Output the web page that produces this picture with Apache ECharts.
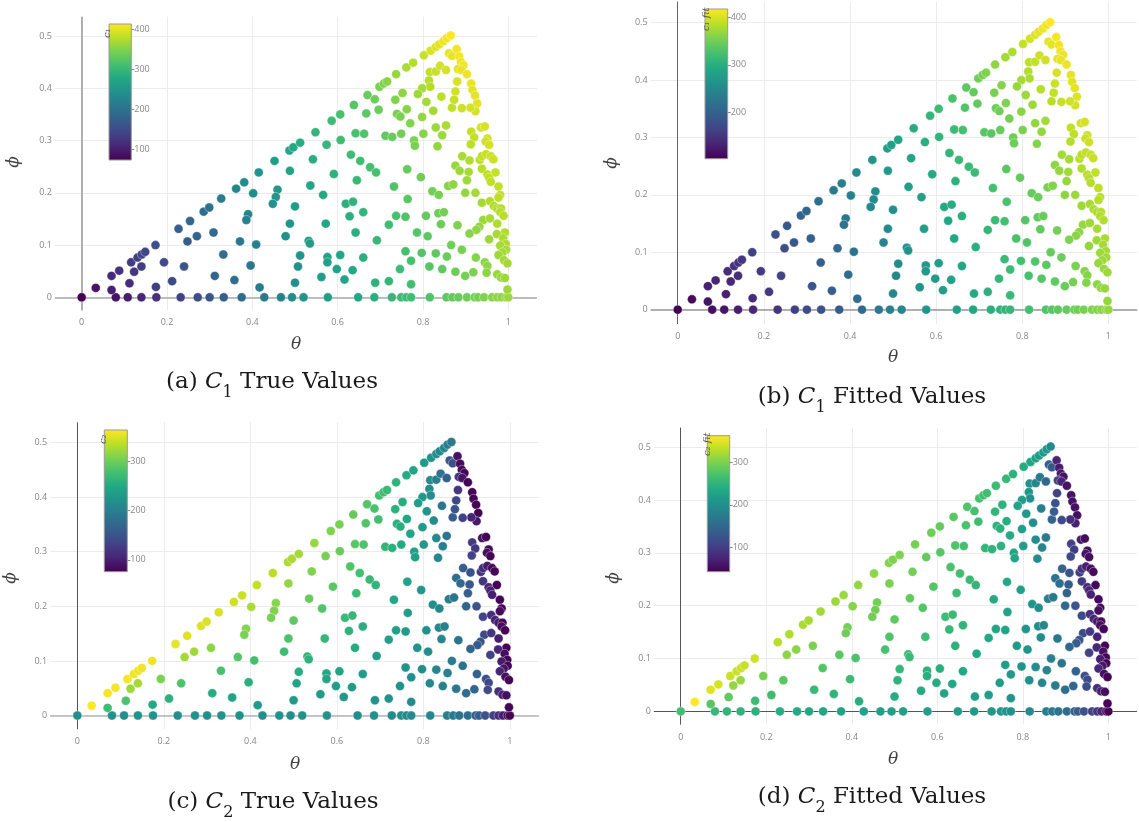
<!DOCTYPE html>
<html>
<head>
<meta charset="utf-8">
<title>C1 / C2 true and fitted values over (theta, phi)</title>
<script src="https://cdn.jsdelivr.net/npm/echarts@6.0.0/dist/echarts.min.js"></script>
<style>
  html, body { margin: 0; padding: 0; background: #ffffff; }
  #chart { width: 1139px; height: 822px; }
</style>
</head>
<body>
<div id="chart"></div>
<script>
// Each sample point: [theta, phi, c1 true, c1 fitted, c2 true, c2 fitted]

// points on phi = 0
const bottomRow = [
  [0.000,0,74,102,218,266],[0.080,0,92,113,221,255],[0.108,0,101,119,219,252],[0.140,0,110,126,222,249],
  [0.175,0,122,135,220,246],[0.232,0,140,150,218,240],[0.272,0,154,161,221,236],[0.300,0,164,170,219,234],
  [0.333,0,176,180,222,231],[0.375,0,192,193,220,228],[0.428,0,211,212,218,226],[0.467,0,225,227,221,224],
  [0.493,0,236,237,219,223],[0.520,0,246,246,220,222],[0.577,0,261,264,222,220],[0.648,0,278,281,218,218],
  [0.686,0,287,290,219,216],[0.727,0,297,301,216,212],[0.749,0,302,306,215,207],[0.761,0,305,309,214,205],
  [0.772,0,307,311,212,203],[0.816,0,318,322,207,194],[0.855,0,327,331,198,176],[0.869,0,330,334,193,170],
  [0.883,0,334,338,187,164],[0.903,0,338,343,178,153],[0.921,0,343,348,166,143],[0.929,0,344,349,160,136],
  [0.943,0,348,353,149,125],[0.962,0,352,357,130,106],[0.974,0,355,360,115,90],[0.984,0,357,362,101,76],
  [0.995,0,360,365,84,55],[1.000,0,361,366,76,42]
];

// points on the upper straight edge
const upperEdge = [
  [0.033,0.018,92,110,364,363],[0.070,0.041,115,130,361,348],[0.088,0.051,122,134,360,344],
  [0.116,0.067,132,142,359,338],[0.131,0.076,138,146,358,337],[0.141,0.082,142,149,357,337],
  [0.149,0.087,145,152,357,336],[0.173,0.100,154,160,356,339],[0.227,0.131,175,179,353,328],
  [0.254,0.146,185,188,351,324],[0.286,0.164,197,200,349,321],[0.299,0.172,202,205,348,320],
  [0.327,0.189,214,217,346,318],[0.362,0.208,227,230,343,315],[0.381,0.220,235,237,341,314],
  [0.415,0.239,248,251,338,311],[0.452,0.261,263,266,333,307],[0.487,0.281,276,279,328,302],
  [0.496,0.287,278,281,327,301],[0.512,0.296,283,286,324,300],[0.548,0.316,295,298,318,296],
  [0.586,0.338,306,309,310,291],[0.606,0.350,313,317,305,286],[0.638,0.368,323,327,296,280],
  [0.670,0.387,334,338,286,273],[0.698,0.403,345,349,277,268],[0.708,0.409,349,353,273,266],
  [0.716,0.413,352,356,270,265],[0.737,0.427,360,364,261,260],[0.761,0.440,369,373,251,254],
  [0.777,0.449,375,379,244,247],[0.802,0.463,385,390,231,238],[0.818,0.472,392,397,223,233],
  [0.830,0.479,397,402,216,222],[0.838,0.484,400,405,211,218],[0.848,0.490,404,409,205,214],
  [0.856,0.496,407,412,200,208],[0.865,0.501,413,418,192,193]
];

// points inside the sector and along the outer arc
const interior = [
  [0.070,0.014,103,119,273,278],[0.112,0.027,118,130,283,283],[0.123,0.049,128,138,320,311],
  [0.140,0.059,135,143,325,313],[0.174,0.020,135,142,250,260],[0.193,0.067,150,156,307,297],
  [0.212,0.031,149,154,258,263],[0.240,0.059,162,166,282,279],[0.248,0.107,174,178,323,307],
  [0.270,0.117,182,185,322,306],[0.309,0.124,194,197,314,299],[0.312,0.041,182,185,252,257],
  [0.332,0.082,194,197,279,275],[0.358,0.033,195,198,242,250],[0.371,0.107,209,212,287,280],
  [0.402,0.199,236,238,326,305],[0.390,0.159,224,226,311,296],[0.386,0.148,221,223,306,293],
  [0.409,0.101,220,222,277,272],[0.396,0.061,210,213,256,258],[0.417,0.019,213,215,231,241],
  [0.459,0.206,253,256,313,295],[0.455,0.192,249,252,309,293],[0.448,0.179,245,247,306,292],
  [0.488,0.242,269,272,317,299],[0.500,0.174,259,262,292,282],[0.488,0.141,250,253,282,274],
  [0.478,0.117,244,246,273,268],[0.500,0.028,241,244,232,239],[0.507,0.059,246,249,245,248],
  [0.512,0.080,250,253,254,254],[0.532,0.108,260,263,263,260],[0.535,0.103,260,263,260,257],
  [0.542,0.264,284,287,308,294],[0.536,0.214,274,277,297,286],[0.566,0.196,279,282,284,275],
  [0.572,0.141,273,276,267,262],[0.562,0.039,260,263,233,237],[0.576,0.077,267,270,245,245],
  [0.576,0.067,266,269,242,242],[0.574,0.292,296,299,305,286],[0.607,0.301,304,307,297,280],
  [0.591,0.236,290,293,289,276],[0.598,0.054,270,273,236,238],[0.606,0.081,274,277,244,243],
  [0.616,0.034,273,276,229,231],[0.619,0.179,288,291,269,261],[0.636,0.183,293,296,266,258],
  [0.628,0.155,287,290,261,254],[0.642,0.124,287,290,251,246],[0.635,0.052,279,282,233,234],
  [0.631,0.273,305,308,285,271],[0.642,0.314,314,318,288,273],[0.653,0.261,308,312,277,264],
  [0.645,0.224,300,303,272,262],[0.660,0.163,296,299,256,250],[0.660,0.076,286,289,236,234],
  [0.662,0.313,319,323,282,268],[0.667,0.352,327,331,285,270],[0.676,0.249,311,315,268,257],
  [0.688,0.028,290,293,223,222],[0.690,0.239,313,317,263,252],[0.692,0.109,298,301,239,234],
  [0.687,0.379,338,342,280,268],[0.696,0.359,336,340,275,263],[0.712,0.309,330,334,264,252],
  [0.728,0.307,333,337,259,248],[0.720,0.139,307,311,240,233],[0.720,0.031,297,301,221,219],
  [0.732,0.212,319,323,248,238],[0.735,0.378,349,353,260,251],[0.737,0.156,313,317,238,231],
  [0.739,0.351,344,348,257,247],[0.747,0.346,345,349,254,245],[0.746,0.054,305,309,221,217],
  [0.861,0.467,401,406,150,138],[0.868,0.462,402,405,145,131],[0.879,0.475,409,414,89,75],
  [0.885,0.461,407,411,83,66],[0.889,0.450,405,410,83,66],[0.895,0.444,406,409,78,60],
  [0.882,0.437,400,405,120,103],[0.890,0.435,402,406,92,74],[0.903,0.427,404,409,78,58],
  [0.816,0.431,381,386,215,205],[0.830,0.432,385,389,199,188],[0.840,0.443,390,395,184,172],
  [0.854,0.435,392,396,161,148],[0.814,0.415,376,381,216,206],[0.817,0.403,375,379,214,203],
  [0.798,0.400,369,374,229,219],[0.788,0.389,364,367,235,226],[0.752,0.391,356,360,253,247],
  [0.808,0.374,366,371,223,213],[0.843,0.384,378,382,190,177],[0.880,0.413,394,399,122,105],
  [0.876,0.394,389,393,137,120],[0.913,0.409,402,407,80,58],[0.916,0.397,400,404,80,58],
  [0.922,0.386,400,405,78,55],[0.927,0.371,398,402,79,56],[0.923,0.356,393,398,94,71],
  [0.911,0.363,391,395,106,85],[0.891,0.362,386,391,132,114],[0.868,0.363,380,384,160,144],
  [0.873,0.378,384,389,151,135],[0.762,0.360,352,356,248,241],[0.824,0.357,367,370,212,200],
  [0.798,0.345,358,362,230,220],[0.770,0.333,349,352,244,236],[0.749,0.313,340,344,251,245],
  [0.801,0.313,352,355,229,219],[0.830,0.325,362,367,210,198],[0.854,0.329,369,373,188,174],
  [0.845,0.310,363,368,199,186],[0.779,0.300,345,348,238,230],[0.781,0.290,344,348,237,229],
  [0.834,0.289,357,360,209,197],[0.913,0.317,383,388,124,103],[0.920,0.306,383,387,120,98],
  [0.936,0.325,390,395,91,67],[0.945,0.327,394,398,78,52],[0.912,0.293,378,383,134,113],
  [0.951,0.304,391,396,80,53],[0.947,0.298,388,392,88,62],[0.955,0.292,390,395,80,53],
  [0.763,0.245,332,336,241,234],[0.795,0.230,338,341,228,220],[0.892,0.270,369,374,162,144],
  [0.876,0.252,361,365,180,164],[0.886,0.242,363,368,173,156],[0.909,0.262,372,376,147,127],
  [0.907,0.240,368,373,154,135],[0.903,0.224,364,368,161,143],[0.933,0.263,379,384,120,97],
  [0.938,0.270,381,385,112,88],[0.948,0.274,385,390,97,71],[0.959,0.270,387,391,82,55],
  [0.965,0.264,387,392,78,50],[0.938,0.246,377,381,120,96],[0.951,0.235,379,384,107,81],
  [0.970,0.239,384,388,78,49],[0.955,0.229,379,384,104,78],[0.959,0.221,379,383,101,74],
  [0.977,0.212,382,387,78,48],[0.822,0.203,340,343,216,205],[0.837,0.196,343,347,209,197],
  [0.859,0.213,351,354,196,182],[0.871,0.216,355,359,188,173],[0.899,0.200,360,364,169,151],
  [0.923,0.200,366,371,148,127],[0.981,0.196,380,384,77,47],[0.977,0.191,379,384,84,54],
  [0.764,0.188,324,327,235,228],[0.938,0.181,367,372,137,114],[0.957,0.184,372,376,114,88],
  [0.966,0.175,374,379,104,76],[0.974,0.170,375,379,94,65],[0.983,0.170,377,382,80,49],
  [0.981,0.163,376,380,86,56],[0.989,0.156,377,382,77,46],[0.759,0.154,318,322,232,226],
  [0.807,0.156,331,334,219,210],[0.836,0.161,338,342,209,197],[0.849,0.163,342,345,203,190],
  [0.842,0.140,337,341,206,194],[0.881,0.138,347,350,186,170],[0.941,0.148,363,368,140,116],
  [0.957,0.151,368,372,121,95],[0.974,0.141,371,376,101,72],[0.932,0.135,359,363,150,127],
  [0.925,0.129,357,362,157,136],[0.909,0.122,352,356,169,150],[0.786,0.124,322,326,222,214],
  [0.811,0.117,327,330,215,206],[0.992,0.124,373,378,78,46],[0.973,0.121,368,372,106,77],
  [0.988,0.113,371,376,86,55],[0.955,0.111,362,366,131,105],[0.866,0.100,339,343,195,181],
  [0.994,0.102,371,375,78,45],[0.981,0.099,367,372,98,68],[0.891,0.091,344,347,183,166],
  [0.759,0.088,311,315,224,218],[0.797,0.085,320,323,216,207],[0.830,0.084,328,332,207,196],
  [0.995,0.091,370,375,78,45],[0.986,0.086,367,371,92,61],[0.856,0.078,334,338,199,186],
  [0.977,0.081,364,369,107,78],[0.924,0.076,350,354,162,141],[0.772,0.070,313,317,219,212],
  [0.990,0.071,366,371,88,56],[0.998,0.065,367,372,77,43],[0.945,0.067,355,359,145,121],
  [0.951,0.060,355,360,139,114],[0.815,0.059,322,325,210,200],[0.845,0.054,329,333,202,189],
  [0.876,0.049,336,339,190,175],[0.918,0.048,346,351,168,147],[0.899,0.041,341,345,179,161],
  [0.949,0.047,354,359,142,117],[0.974,0.044,359,363,114,85],[0.983,0.038,361,366,102,71],
  [0.992,0.037,363,368,88,55],[0.772,0.025,309,313,214,207],[0.998,0.015,362,367,80,46]
];

// axis and colour-bar ticks
const xTicks = [0, 0.2, 0.4, 0.6, 0.8, 1];
const yTicks = [0, 0.1, 0.2, 0.3, 0.4, 0.5];
const c1Ticks = [100, 200, 300, 400];
const c1FitTicks = [200, 300, 400];
const c2Ticks = [100, 200, 300];
const c2FitTicks = [100, 200, 300];

// colour ranges of the four colour bars
const c1Range = [74, 413];
const c1FitRange = [102, 418];
const c2Range = [76, 364];
const c2FitRange = [42, 363];

const viridis = ['#440154', '#482475', '#414487', '#355f8d', '#2a788e', '#21918c',
                 '#22a884', '#44bf70', '#7ad151', '#bddf26', '#fde725'];

const points = bottomRow.concat(upperEdge, interior);

// page layout of the four panels
const panels = [
  { col: 2, range: c1Range, ticks: c1Ticks, letter: 'a', sub: '1', kind: 'True Values',
    grid: { left: 54.8, top: 16.7, width: 482.1, height: 293.7 },
    bar: { left: 109, top: 24, width: 22.3, height: 136 },
    barTitle: 'c\u2081', barTitlePos: [107, 38],
    thetaPos: [296, 345], phiPos: [14, 162], captionPos: [272, 382],
    hLine: ['#aaaaaa', 1.5], vLine: ['#999999', 1.5] },
  { col: 3, range: c1FitRange, ticks: c1FitTicks, letter: 'b', sub: '1', kind: 'Fitted Values',
    grid: { left: 650.6, top: 1.5, width: 486.6, height: 322.5 },
    bar: { left: 705, top: 9, width: 22.7, height: 149.7 },
    barTitle: 'c\u2081 fit', barTitlePos: [706, 31],
    thetaPos: [893, 358], phiPos: [612, 163], captionPos: [872, 397],
    hLine: ['#999999', 1.5], vLine: ['#666666', 1] },
  { col: 4, range: c2Range, ticks: c2Ticks, letter: 'c', sub: '2', kind: 'True Values',
    grid: { left: 50.1, top: 422.3, width: 488.7, height: 306.9 },
    bar: { left: 104.3, top: 430, width: 23, height: 141.7 },
    barTitle: 'c\u2082', barTitlePos: [103, 444],
    thetaPos: [295, 765], phiPos: [11, 578], captionPos: [273, 802],
    hLine: ['#b5b5b5', 1.5], vLine: ['#555555', 1] },
  { col: 5, range: c2FitRange, ticks: c2FitTicks, letter: 'd', sub: '2', kind: 'Fitted Values',
    grid: { left: 653.8, top: 427.6, width: 483.2, height: 297.0 },
    bar: { left: 707.3, top: 435.7, width: 22.4, height: 136 },
    barTitle: 'c\u2082 fit', barTitlePos: [707, 456],
    thetaPos: [893, 760], phiPos: [614, 578], captionPos: [872, 797],
    hLine: ['#555555', 1], vLine: ['#555555', 1] }
];

const tickFont = { fontFamily: 'Open Sans', fontSize: 9, color: '#888888' };
const gridLineColor = '#ececec';
const captionFont = 'DejaVu Serif';

const grids = [], xAxes = [], yAxes = [], series = [], visualMaps = [], graphics = [];

panels.forEach(function (p, i) {
  // scatter panel
  grids.push(Object.assign({ containLabel: false }, p.grid));
  xAxes.push({
    gridIndex: i, type: 'value', min: -0.063, max: 1.067,
    axisLine: { show: false, onZero: false },
    axisTick: { show: false, customValues: xTicks },
    axisLabel: Object.assign({ customValues: xTicks, margin: 8 }, tickFont),
    splitLine: { show: true, lineStyle: { color: gridLineColor, width: 1 } }
  });
  yAxes.push({
    gridIndex: i, type: 'value', min: -0.025, max: 0.537,
    axisLine: { show: false, onZero: false },
    axisTick: { show: false, customValues: yTicks },
    axisLabel: Object.assign({ customValues: yTicks, margin: 3 }, tickFont),
    splitLine: { show: true, lineStyle: { color: gridLineColor, width: 1 } }
  });
  series.push({
    type: 'scatter', name: p.letter, xAxisIndex: i, yAxisIndex: i,
    data: points.map(function (pt) { return [pt[0], pt[1], pt[p.col]]; }),
    symbol: 'circle', symbolSize: 9,
    itemStyle: { opacity: 1, borderColor: 'rgba(255,255,255,0.7)', borderWidth: 0.5 },
    silent: true, animation: false,
    markLine: {
      silent: true, symbol: 'none', z: 1, animation: false,
      label: { show: false },
      data: [
        { yAxis: 0, lineStyle: { color: p.hLine[0], width: p.hLine[1], type: 'solid' } },
        { xAxis: 0, lineStyle: { color: p.vLine[0], width: p.vLine[1], type: 'solid' } }
      ]
    }
  });
  visualMaps.push({
    type: 'continuous', show: false, seriesIndex: i, dimension: 2,
    min: p.range[0], max: p.range[1], inRange: { color: viridis }
  });

  // axis titles
  graphics.push({
    type: 'text', x: p.thetaPos[0], y: p.thetaPos[1], silent: true, z: 100,
    style: { text: '\u03b8', fontFamily: 'DejaVu Serif', fontStyle: 'italic', fontSize: 17,
             fill: '#444444', align: 'center', verticalAlign: 'middle' }
  });
  graphics.push({
    type: 'text', x: p.phiPos[0], y: p.phiPos[1], rotation: Math.PI / 2, silent: true, z: 100,
    style: { text: '\u03d5', fontFamily: 'DejaVu Serif', fontStyle: 'italic', fontSize: 17,
             fill: '#444444', align: 'center', verticalAlign: 'middle' }
  });

  // caption below the panel
  graphics.push({
    type: 'text', x: p.captionPos[0], y: p.captionPos[1], silent: true, z: 100,
    style: {
      text: '{n|(' + p.letter + ') }{i|C}{s|' + p.sub + '}{n| ' + p.kind + '}',
      align: 'center', verticalAlign: 'middle',
      rich: {
        n: { fontFamily: captionFont, fontSize: 23, fill: '#1a1a1a', lineHeight: 38 },
        i: { fontFamily: captionFont, fontStyle: 'italic', fontSize: 23, fill: '#1a1a1a', lineHeight: 38 },
        s: { fontFamily: captionFont, fontSize: 16, fill: '#1a1a1a', lineHeight: 21, verticalAlign: 'bottom' }
      }
    }
  });

  // colour-bar title
  graphics.push({
    type: 'text', x: p.barTitlePos[0], y: p.barTitlePos[1], rotation: Math.PI / 2, silent: true, z: 100,
    style: { text: p.barTitle, fontFamily: 'DejaVu Serif', fontStyle: 'italic', fontSize: 10,
             fill: '#555555', align: 'left', verticalAlign: 'middle' }
  });
});

// colour bars: a small grid filled with the viridis ramp, value axis on its right
panels.forEach(function (p, i) {
  const gi = panels.length + i;
  grids.push(Object.assign({
    show: true, z: 3,
    backgroundColor: {
      type: 'linear', x: 0, y: 0, x2: 0, y2: 1,
      colorStops: viridis.slice().reverse().map(function (c, k, arr) {
        return { offset: k / (arr.length - 1), color: c };
      })
    },
    borderColor: '#9a9a9a', borderWidth: 1
  }, p.bar));
  xAxes.push({ gridIndex: gi, type: 'value', min: 0, max: 1, show: false });
  yAxes.push({
    gridIndex: gi, type: 'value', position: 'right', min: p.range[0], max: p.range[1],
    axisLine: { show: false, onZero: false },
    splitLine: { show: false },
    axisTick: { show: true, length: 3, customValues: p.ticks, lineStyle: { color: '#888888', width: 1 } },
    axisLabel: Object.assign({ customValues: p.ticks, margin: 3 }, tickFont)
  });
});

const chart = echarts.init(document.getElementById('chart'), null, { renderer: 'canvas' });
chart.setOption({
  backgroundColor: '#ffffff',
  animation: false,
  grid: grids,
  xAxis: xAxes,
  yAxis: yAxes,
  visualMap: visualMaps,
  series: series,
  graphic: { elements: graphics }
});
</script>
</body>
</html>
